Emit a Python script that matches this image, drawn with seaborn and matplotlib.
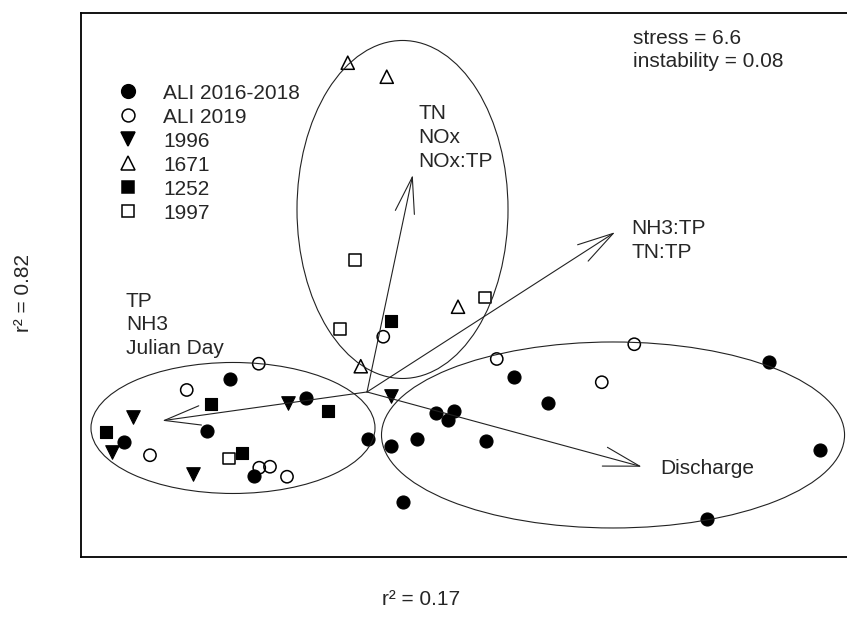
import matplotlib.pyplot as plt
import numpy as np
import pandas as pd
import seaborn as sns
from matplotlib.lines import Line2D
from matplotlib.patches import Ellipse

# NMDS site scores, one pair of lists per group
ali_1618_x = [-0.548, -0.971, -0.641, -0.245, 0.005, -0.451, 0.589, 0.725, 0.276,
              0.349, 0.323, 0.096, 0.201, 0.476, 1.812, 0.145, 1.359, 1.609]
ali_1618_y = [0.052, -0.200, -0.156, -0.025, -0.189, -0.336, 0.061, -0.043, -0.085,
              -0.075, -0.112, -0.215, -0.188, -0.196, -0.232, -0.439, -0.509, 0.121]
ali_2019_x = [-0.433, -0.721, -0.868, -0.431, -0.388, -0.320, 0.065, 0.519, 1.069, 0.939]
ali_2019_y = [0.113, 0.008, -0.253, -0.303, -0.299, -0.339, 0.221, 0.132, 0.191, 0.039]
s1996_x = [-0.936, -1.021, -0.317, -0.697, 0.096]
s1996_y = [-0.101, -0.239, -0.045, -0.328, -0.015]
s1671_x = [-0.077, 0.079, 0.364, -0.025]
s1671_y = [1.317, 1.261, 0.341, 0.103]
s1252_x = [-0.625, -1.045, -0.155, -0.499, 0.095]
s1252_y = [-0.048, -0.159, -0.075, -0.245, 0.284]
s1997_x = [-0.048, -0.108, 0.472, -0.552]
s1997_y = [0.528, 0.252, 0.379, -0.265]

groups = ["ALI 2016-2018", "ALI 2019", "1996", "1671", "1252", "1997"]

# environmental vectors (fitted loadings)
vec_labels = ["TN\nNOx\nNOx:TP", "NH3:TP\nTN:TP", "TP\nNH3\nJulian Day", "Discharge"]
vec_x = [0.183, 0.992, -0.819, 1.099]
vec_y = [0.868, 0.639, -0.115, -0.299]
vec_lab_x = [0.204, 1.056, -0.964, 1.172]
vec_lab_y = [1.018, 0.607, 0.268, -0.308]

# cluster ellipses: centre, width, height
ell_cx = [-0.536, 0.142, 0.984]
ell_cy = [-0.144, 0.730, -0.172]
ell_w = [1.136, 0.844, 1.852]
ell_h = [0.524, 1.352, 0.744]

parts = [
    (ali_1618_x, ali_1618_y), (ali_2019_x, ali_2019_y), (s1996_x, s1996_y),
    (s1671_x, s1671_y), (s1252_x, s1252_y), (s1997_x, s1997_y),
]
df = pd.concat(
    [pd.DataFrame({"NMDS1": px, "NMDS2": py, "Group": g}) for g, (px, py) in zip(groups, parts)],
    ignore_index=True,
)

# marker, filled, size (pt^2)
styles = {
    "ALI 2016-2018": ("o", True, 88),
    "ALI 2019": ("o", False, 78),
    "1996": ("v", True, 95),
    "1671": ("^", False, 90),
    "1252": ("s", True, 64),
    "1997": ("s", False, 66),
}

sns.set_style("white")
plt.rcParams["font.family"] = ["Liberation Sans", "DejaVu Sans"]
FS = 15

fig = plt.figure(figsize=(8.47, 6.24), dpi=100)
ax = fig.add_axes([0.0956, 0.1074, 0.908, 0.8718])

for g in groups:
    m, filled, s = styles[g]
    sub = df[df["Group"] == g]
    if filled:
        sns.scatterplot(data=sub, x="NMDS1", y="NMDS2", marker=m, s=s, color="black",
                        edgecolor="black", linewidth=0.8, ax=ax, legend=False)
    else:
        sns.scatterplot(data=sub, x="NMDS1", y="NMDS2", marker=m, s=s, facecolor="none",
                        edgecolor="black", linewidth=1.1, ax=ax, legend=False)

for cx, cy, w, h in zip(ell_cx, ell_cy, ell_w, ell_h):
    ax.add_patch(Ellipse((cx, cy), w, h, fill=False, edgecolor="#222222", lw=0.8))

for vx, vy, lab, lx, ly in zip(vec_x, vec_y, vec_labels, vec_lab_x, vec_lab_y):
    ax.annotate("", xy=(vx, vy), xytext=(0, 0),
                arrowprops=dict(arrowstyle="->,head_length=1.3,head_width=0.35",
                                lw=0.8, color="#222222", shrinkA=0, shrinkB=0,
                                mutation_scale=20))
    ax.text(lx, ly, lab, ha="left", va="center", fontsize=FS, linespacing=1.33)

ax.text(1.064, 1.368, "stress = 6.6\ninstability = 0.08", ha="left", va="center",
        fontsize=FS, linespacing=1.3)

handles = []
for g in groups:
    m, filled, s = styles[g]
    handles.append(Line2D([], [], linestyle="none", marker=m, markersize=np.sqrt(s) * 1.05,
                          markerfacecolor="black" if filled else "none",
                          markeredgecolor="black", markeredgewidth=1.1))
ax.legend(handles, groups, loc="upper left", bbox_to_anchor=(0.0476, 0.870), frameon=False,
          fontsize=FS, borderpad=0, handlelength=1.0, handletextpad=1.18, labelspacing=0.24,
          borderaxespad=0)

ax.set_xlim(-1.144, 1.932)
ax.set_ylim(-0.66, 1.516)
ax.set_xticks([])
ax.set_yticks([])
ax.set_xlabel("")
ax.set_ylabel("")
for sp in ax.spines.values():
    sp.set_color("black")
    sp.set_linewidth(1.3)

fig.text(0.497, 0.0385, "r\u00b2 = 0.17", ha="center", va="center", fontsize=FS)
fig.text(0.0283, 0.53, "r\u00b2 = 0.82", ha="center", va="center", fontsize=FS, rotation=90)

fig.savefig("out.png", dpi=100, facecolor="white")
